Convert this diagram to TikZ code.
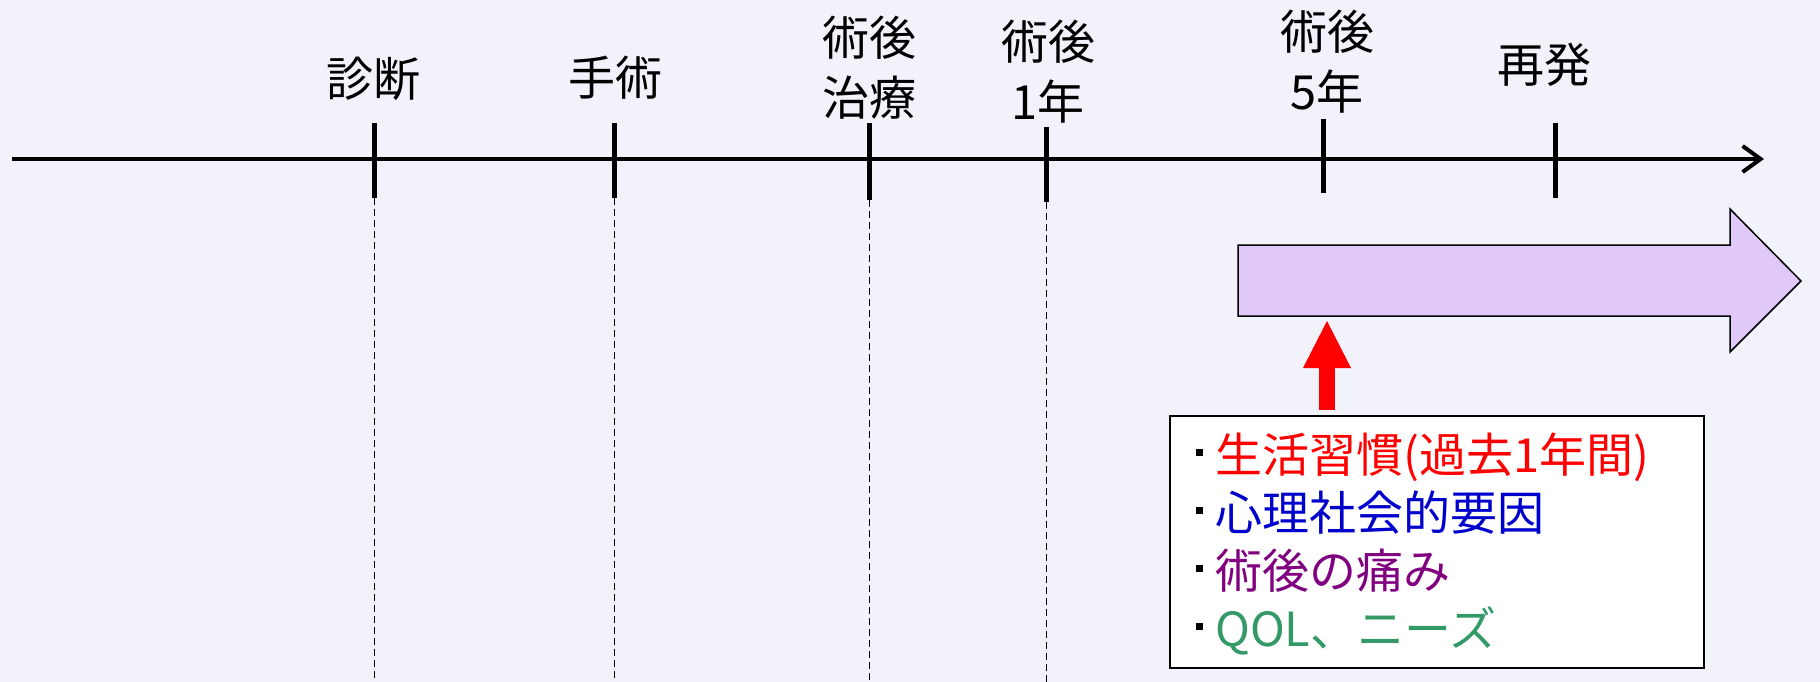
\documentclass[tikz,border=0pt]{standalone}
\usepackage{fontspec}
\setmainfont{Noto Sans CJK JP}
\usetikzlibrary{arrows.meta}
\definecolor{bgc}{HTML}{F1F2FA}
\definecolor{phasefill}{HTML}{E0C8FA}
\definecolor{itemred}{HTML}{FF0000}
\definecolor{itemblue}{HTML}{0000CC}
\definecolor{itempurple}{HTML}{800080}
\definecolor{itemgreen}{HTML}{339966}
\newcommand{\itembullet}{\rule[16pt]{7pt}{7pt}\hspace{12pt}}
\begin{document}
\begin{tikzpicture}[x=1pt,y=-1pt,
  lbl/.style={font=\fontsize{47}{60}\selectfont, align=center, inner sep=0pt},
  tickmark/.style={line width=5pt},
  guide/.style={line width=1pt, dash pattern=on 7pt off 4pt},
  axisline/.style={line width=4pt, -{Straight Barb[length=18pt,width=26pt]}},
  phasearrow/.style={line width=1.5pt, fill=phasefill, line join=miter},
  factorbox/.style={draw, line width=2pt, fill=white, minimum width=534pt, minimum height=252pt, anchor=north west, inner sep=0pt},
  pusharrow/.style={red, line width=16pt, -{Triangle[length=47pt,width=48pt,line width=0pt]}},
]
\fill[bgc] (0,0) rectangle (1820,682);
\useasboundingbox (0,0) rectangle (1820,682);

% axis
\coordinate (start) at (12,159);
\coordinate (end) at (1764,159);
\draw[axisline] (start) -- (end);

% ticks
\coordinate (t1top) at (374,123); \coordinate (t1bot) at (374,198); \coordinate (t1end) at (374,682);
\coordinate (t2top) at (614,123); \coordinate (t2bot) at (614,198); \coordinate (t2end) at (614,682);
\coordinate (t3top) at (869,123); \coordinate (t3bot) at (869,200); \coordinate (t3end) at (869,682);
\coordinate (t4top) at (1046,127); \coordinate (t4bot) at (1046,202); \coordinate (t4end) at (1046,682);
\coordinate (t5top) at (1323,119); \coordinate (t5bot) at (1323,193);
\coordinate (t6top) at (1555,123); \coordinate (t6bot) at (1555,198);
\draw[tickmark] (t1top) -- (t1bot);
\draw[tickmark] (t2top) -- (t2bot);
\draw[tickmark] (t3top) -- (t3bot);
\draw[tickmark] (t4top) -- (t4bot);
\draw[tickmark] (t5top) -- (t5bot);
\draw[tickmark] (t6top) -- (t6bot);
\draw[guide] (t1bot) -- (t1end);
\draw[guide] (t2bot) -- (t2end);
\draw[guide] (t3bot) -- (t3end);
\draw[guide] (t4bot) -- (t4end);

% labels
\node[lbl] (l1) at (373,79) {診断};
\node[lbl] (l2) at (615,78) {手術};
\node[lbl] (l3) at (869,67.5) {術後\\治療};
\node[lbl] (l4) at (1048,72) {術後\\1年};
\node[lbl] (l5) at (1327,61.5) {術後\\5年};
\node[lbl] (l6) at (1544,65) {再発};

% phase arrow
\draw[phasearrow] (1238,245) -- (1730,245) -- (1730,209) -- (1801,281) -- (1730,352) -- (1730,316) -- (1238,316) -- cycle;

% factor box
\node[factorbox] (box) at (1169,415) {};
\coordinate (redbase) at (1327,410);
\coordinate (redtip) at (1327,321);
\draw[pusharrow] (redbase) -- (redtip);

\node[anchor=base west, align=left, inner sep=0pt, font=\fontsize{47}{58}\selectfont] (items) at (1196,646)
 {\itembullet\textcolor{itemred}{生活習慣(過去1年間)}\\
  \itembullet\textcolor{itemblue}{心理社会的要因}\\
  \itembullet\textcolor{itempurple}{術後の痛み}\\
  \itembullet\textcolor{itemgreen}{QOL、ニーズ}};
\end{tikzpicture}
\end{document}
